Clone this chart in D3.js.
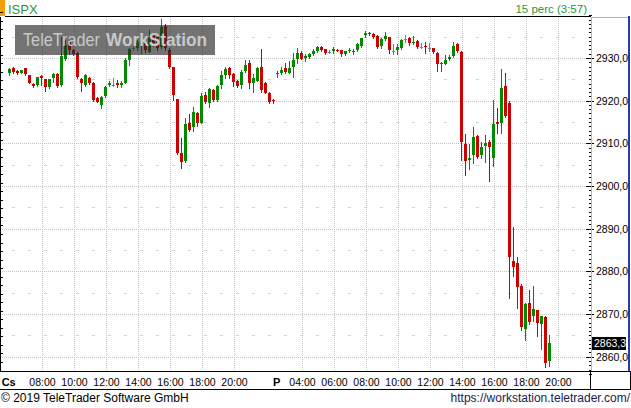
<!DOCTYPE html>
<html><head><meta charset="utf-8">
<script src="https://cdn.jsdelivr.net/npm/d3@7"></script>
<style>html,body{margin:0;padding:0;background:#fff;overflow:hidden}svg{display:block}</style>
</head><body>
<svg id="c" width="631" height="408"></svg>
<script>
// ---------- data ----------
const symbol = "ISPX";
const periodLabel = "15 perc (3:57)";
const watermarkWords = ["TeleTrader", "WorkStation"];
const copyright = "© 2019 TeleTrader Software GmbH";
const url = "https://workstation.teletrader.com/";
const sessionNames = ["Cs", "P"];
const sessionStarts = ["05:45", "02:15"];
const sessionLengths = [67, 69];
const timeTicks = [
  ["08:00","10:00","12:00","14:00","16:00","18:00","20:00"],
  ["04:00","06:00","08:00","10:00","12:00","14:00","16:00","18:00","20:00"]
];
const priceTicks = [2860,2870,2880,2890,2900,2910,2920,2930];
const lastPrice = 2863.3;

const open = [
2926.4,2927.6,2927.0,2926.6,2927.6,2926.0,2923.8,2923.7,2925.8,2925.0,
2923.1,2925.4,2926.3,2923.7,2929.7,2933.7,2931.8,2931.1,2925.0,2923.7,
2925.2,2924.2,2920.6,2919.0,2921.1,2923.7,2923.7,2924.2,2923.7,2924.2,
2929.5,2932.3,2932.3,2933.2,2933.4,2931.5,2935.4,2935.0,2932.6,2937.5,
2931.9,2928.0,2920.3,2907.7,2905.9,2914.7,2913.9,2917.0,2914.7,2921.3,
2919.5,2922.5,2920.2,2923.7,2925.9,2927.6,2926.2,2924.7,2923.7,2927.0,
2928.9,2924.2,2924.7,2928.0,2924.2,2921.9,2920.2,
2926.3,2926.6,2927.6,2926.6,2928.0,2929.7,2931.1,2930.1,2930.3,2930.9,
2931.7,2932.5,2932.0,2931.4,2931.6,2931.9,2931.8,2930.9,2931.6,2931.5,
2931.9,2932.8,2935.5,2935.9,2935.6,2935.2,2932.8,2934.5,2934.9,2931.7,
2931.9,2932.3,2934.4,2934.8,2933.4,2934.1,2932.6,2932.8,2932.3,2932.3,
2931.2,2928.7,2928.7,2929.8,2930.5,2933.2,2931.5,2909.8,2906.1,2907.3,
2911.7,2907.3,2909.4,2910.2,2906.6,2915.1,2914.8,2923.4,2919.5,2882.4,
2881.9,2876.6,2866.5,2872.5,2869.6,2870.9,2867.6,2869.4,2859.0];
const high = [
2927.7,2927.8,2927.1,2927.3,2927.6,2926.0,2924.2,2925.5,2925.9,2925.0,
2925.1,2926.5,2926.5,2935.0,2934.2,2934.3,2932.0,2931.3,2925.2,2926.2,
2925.6,2924.4,2920.9,2921.0,2923.5,2924.7,2925.2,2924.8,2924.7,2930.0,
2932.3,2932.7,2934.2,2933.8,2933.7,2936.6,2935.9,2935.4,2939.1,2938.0,
2932.3,2928.0,2920.5,2911.2,2915.9,2916.9,2918.6,2917.3,2921.8,2922.1,
2923.0,2922.7,2923.6,2927.0,2928.0,2927.8,2926.4,2924.9,2927.2,2929.5,
2929.5,2926.2,2927.8,2932.0,2924.4,2922.1,2920.4,
2927.0,2927.8,2928.9,2929.4,2931.1,2932.3,2931.6,2930.9,2931.2,2932.0,
2932.9,2932.8,2932.2,2931.9,2932.5,2932.2,2931.9,2931.7,2932.3,2932.0,
2933.4,2934.8,2936.3,2936.2,2935.8,2935.3,2934.6,2936.0,2935.0,2933.3,
2933.3,2934.4,2935.4,2935.0,2935.2,2934.2,2933.4,2933.7,2933.4,2932.4,
2931.3,2929.0,2930.7,2930.7,2933.8,2933.4,2931.6,2912.2,2909.8,2913.9,
2912.0,2910.4,2912.0,2910.8,2920.2,2918.2,2927.4,2926.6,2919.9,2890.3,
2883.3,2877.0,2872.7,2875.6,2876.6,2871.0,2869.6,2869.5,2865.2];
const low = [
2926.1,2926.6,2926.2,2926.4,2926.0,2924.1,2923.3,2923.5,2923.7,2922.3,
2923.0,2924.4,2923.2,2923.5,2929.5,2930.9,2930.6,2925.3,2922.3,2923.5,
2923.8,2920.0,2919.7,2918.2,2920.9,2923.4,2923.4,2923.3,2923.3,2924.1,
2928.4,2931.9,2931.9,2931.2,2931.5,2931.4,2932.8,2931.9,2932.3,2931.9,
2927.7,2920.2,2907.5,2904.2,2905.6,2913.0,2913.0,2914.1,2914.7,2919.5,
2918.4,2920.0,2920.0,2922.9,2925.2,2925.2,2923.4,2923.2,2922.9,2926.8,
2922.9,2922.1,2924.5,2922.1,2921.7,2919.5,2919.5,
2925.6,2926.3,2926.4,2926.4,2925.5,2928.8,2929.7,2929.4,2930.1,2930.6,
2931.5,2931.7,2930.9,2931.2,2931.2,2931.6,2930.5,2930.8,2931.3,2931.0,
2931.7,2932.6,2935.0,2935.4,2934.6,2932.4,2932.3,2934.2,2931.2,2930.9,
2930.9,2932.1,2933.7,2933.0,2933.3,2932.3,2932.3,2931.1,2931.7,2931.1,
2927.0,2927.0,2928.5,2929.5,2930.3,2931.5,2906.0,2902.6,2903.9,2905.3,
2906.5,2906.6,2905.7,2901.2,2904.8,2912.5,2912.5,2916.1,2873.8,2878.9,
2871.5,2866.2,2863.9,2867.6,2868.4,2864.8,2861.8,2857.6,2857.8];
const close = [
2927.4,2926.8,2926.4,2927.2,2926.2,2924.2,2923.4,2925.5,2925.2,2923.3,
2925.0,2926.2,2923.4,2930.5,2933.0,2931.9,2930.9,2925.5,2924.1,2926.0,
2924.1,2920.2,2919.8,2920.8,2923.3,2924.1,2923.7,2923.7,2924.1,2929.5,
2932.0,2932.3,2933.8,2933.5,2931.9,2935.0,2933.4,2932.3,2937.3,2932.3,
2928.0,2921.3,2907.7,2905.7,2914.5,2913.1,2917.4,2914.7,2921.1,2919.8,
2922.7,2920.2,2923.4,2926.0,2927.4,2926.0,2924.4,2923.4,2926.8,2928.4,
2924.1,2925.2,2927.6,2922.5,2921.9,2919.8,2919.9,
2926.6,2927.3,2926.8,2927.7,2929.5,2931.2,2929.8,2930.4,2930.9,2931.7,
2932.5,2931.9,2931.1,2931.4,2932.2,2931.7,2930.9,2931.6,2931.8,2931.7,
2933.3,2934.6,2935.9,2935.6,2935.0,2932.6,2934.4,2935.2,2931.9,2931.7,
2932.5,2934.2,2934.4,2933.6,2933.7,2932.5,2932.6,2932.5,2932.3,2931.4,
2928.5,2928.9,2929.5,2930.3,2932.8,2931.6,2910.4,2905.9,2906.6,2911.4,
2906.9,2909.1,2910.1,2909.2,2914.5,2914.5,2922.9,2916.4,2883.4,2881.1,
2876.4,2867.0,2872.3,2868.2,2871.1,2867.8,2869.5,2858.6,2863.3];

// ---------- layout ----------
const svg = d3.select("#c");
const plot = {l: 0, r: 591, t: 17, b: 371};
const colUp = "#008a00", colDown = "#cc0000", colFlat = "#808080";
const font = "'Liberation Sans', Arial, sans-serif";

const nSlots = d3.sum(sessionLengths);
const xs = d3.scaleLinear().domain([0, nSlots]).range([6.7, 6.7 + 4 * nSlots]);
const ys = d3.scaleLinear().domain([2860, 2930]).range([356.7, 58]);

const toMin = s => { const [h, m] = s.split(":").map(Number); return h * 60 + m; };
const offsets = sessionLengths.map((d, i) => d3.sum(sessionLengths.slice(0, i)));
const tickData = [];
timeTicks.forEach((arr, si) => arr.forEach(t => tickData.push({
  label: t, slot: offsets[si] + (toMin(t) - toMin(sessionStarts[si])) / 15
})));

const candles = open.map((o, i) => ({o, h: high[i], l: low[i], c: close[i], i}));

svg.append("rect").attr("width", 631).attr("height", 408).attr("fill", "#fff");

svg.append("clipPath").attr("id", "pc").append("rect")
  .attr("x", plot.l).attr("y", plot.t).attr("width", plot.r - plot.l).attr("height", plot.b - plot.t);

const grid = svg.append("g").attr("clip-path", "url(#pc)");
grid.selectAll(".hg").data(priceTicks).join("line")
  .attr("x1", plot.l).attr("x2", plot.r)
  .attr("y1", d => Math.round(ys(d)) + 0.5).attr("y2", d => Math.round(ys(d)) + 0.5)
  .attr("stroke", "#c4c4c4").attr("stroke-dasharray", "1,1");
grid.selectAll(".hm").data(d3.range(2855, 2941, 10)).join("line")
  .attr("x1", plot.l + 12).attr("x2", plot.r)
  .attr("y1", d => Math.round(ys(d)) + 0.5).attr("y2", d => Math.round(ys(d)) + 0.5)
  .attr("stroke", "#d2d2d2").attr("stroke-dasharray", "3,13");
grid.selectAll(".vg").data(tickData).join("line")
  .attr("x1", d => Math.floor(xs(d.slot)) + 0.5).attr("x2", d => Math.floor(xs(d.slot)) + 0.5)
  .attr("y1", plot.t).attr("y2", plot.b)
  .attr("stroke", "#c4c4c4").attr("stroke-dasharray", "1,1");

// candles
const cg = svg.append("g").attr("clip-path", "url(#pc)");
const colorOf = d => d.c > d.o ? colUp : (d.c < d.o ? colDown : colFlat);
const cx = d => Math.floor(xs(d.i + 0.65));
cg.selectAll(".wick").data(candles).join("line")
  .attr("x1", d => cx(d) + 0.5).attr("x2", d => cx(d) + 0.5)
  .attr("y1", d => Math.round(ys(d.h))).attr("y2", d => Math.round(ys(d.l)) + 1)
  .attr("stroke", colorOf).attr("stroke-width", 1);
cg.selectAll(".body").data(candles).join("rect")
  .attr("x", d => cx(d) - 1).attr("width", 3)
  .attr("y", d => Math.round(ys(Math.max(d.o, d.c))))
  .attr("height", d => Math.max(1, Math.round(ys(Math.min(d.o, d.c))) - Math.round(ys(Math.max(d.o, d.c)))))
  .attr("fill", colorOf);

// watermark
svg.append("rect").attr("x", 15).attr("y", 25).attr("width", 200).attr("height", 30)
  .attr("fill", "rgba(40,40,40,0.65)");
const wmPos = [{x: 23, w: 77, bold: false}, {x: 106, w: 101, bold: true}];
svg.selectAll(".wm").data(watermarkWords).join("text")
  .attr("x", (d, i) => wmPos[i].x).attr("y", 46)
  .attr("font-family", font).attr("font-size", 19).attr("fill", "#c8c8c8")
  .attr("font-weight", (d, i) => wmPos[i].bold ? "bold" : "normal")
  .attr("textLength", (d, i) => wmPos[i].w).attr("lengthAdjust", "spacingAndGlyphs")
  .text(d => d);

// header
svg.append("rect").attr("x", 0).attr("y", 0).attr("width", 5).attr("height", 16).attr("fill", "#f5a000");
svg.append("text").attr("x", 8).attr("y", 13.5).attr("font-family", font).attr("font-size", 13)
  .attr("fill", "#239a3c").text(symbol);
svg.append("text").attr("x", 587).attr("y", 13).attr("text-anchor", "end").attr("font-family", font)
  .attr("font-size", 11.5).attr("fill", "#239a3c").text(periodLabel);
svg.append("line").attr("x1", 5).attr("x2", plot.r).attr("y1", 16.5).attr("y2", 16.5).attr("stroke", "#000");

// left ticks
svg.selectAll(".lt").data(d3.range(2856.75, 2941, 2)).join("line")
  .attr("x1", 0).attr("x2", 3)
  .attr("y1", d => Math.round(ys(d)) + 0.5).attr("y2", d => Math.round(ys(d)) + 0.5)
  .attr("stroke", "#000");
svg.append("line").attr("x1", 0.5).attr("x2", 0.5).attr("y1", plot.t).attr("y2", plot.b).attr("stroke", "#000");

// right axis
const ra = svg.append("g");
ra.append("rect").attr("x", 591).attr("y", 17).attr("width", 40).attr("height", 354).attr("fill", "#fff");
ra.selectAll(".rt").data(d3.range(2856, 2941, 1)).join("line")
  .attr("x1", 589).attr("x2", 592)
  .attr("y1", d => Math.round(ys(d)) + 0.5).attr("y2", d => Math.round(ys(d)) + 0.5)
  .attr("stroke", "#000");
ra.selectAll(".rtm").data(priceTicks).join("line")
  .attr("x1", 586).attr("x2", 594)
  .attr("y1", d => Math.round(ys(d)) + 0.5).attr("y2", d => Math.round(ys(d)) + 0.5)
  .attr("stroke", "#000");
ra.append("line").attr("x1", 591.5).attr("x2", 591.5).attr("y1", 17).attr("y2", 371).attr("stroke", "#f0b030");
ra.append("line").attr("x1", 591).attr("x2", 629).attr("y1", 17.5).attr("y2", 17.5).attr("stroke", "#f0b030");
ra.append("rect").attr("x", 628).attr("y", 16).attr("width", 2).attr("height", 356).attr("fill", "#1f3fb0");
ra.selectAll(".rl").data(priceTicks).join("text")
  .attr("x", 596).attr("y", d => ys(d) + 4)
  .attr("font-family", font).attr("font-size", 10.5).attr("fill", "#000")
  .text(d => d3.format(".1f")(d).replace(".", ","));
ra.append("rect").attr("x", 592).attr("y", Math.round(ys(lastPrice)) - 6).attr("width", 34).attr("height", 13).attr("fill", "#000");
ra.append("text").attr("x", 594).attr("y", ys(lastPrice) + 4)
  .attr("font-family", font).attr("font-size", 10.5).attr("fill", "#fff")
  .text(d3.format(".1f")(lastPrice).replace(".", ","));

// x axis area
svg.append("line").attr("x1", 0).attr("x2", 631).attr("y1", 371.5).attr("y2", 371.5).attr("stroke", "#000");
svg.append("line").attr("x1", 0).attr("x2", 631).attr("y1", 389.5).attr("y2", 389.5).attr("stroke", "#000");
svg.append("line").attr("x1", 590.5).attr("x2", 590.5).attr("y1", 371.5).attr("y2", 389.5).attr("stroke", "#000");
svg.append("line").attr("x1", 630.5).attr("x2", 630.5).attr("y1", 371.5).attr("y2", 389.5).attr("stroke", "#000");
svg.selectAll(".xl").data(tickData).join("text")
  .attr("x", d => Math.floor(xs(d.slot)) + 0.5).attr("y", 385.5).attr("text-anchor", "middle")
  .attr("font-family", font).attr("font-size", 10.5).attr("fill", "#000").text(d => d.label);
svg.selectAll(".dl").data(sessionNames).join("text")
  .attr("x", (d, i) => xs(offsets[i]) + 2).attr("y", 385.5).attr("text-anchor", "middle")
  .attr("font-family", font).attr("font-size", 11).attr("font-weight", "bold").attr("fill", "#000").text(d => d);

// footer
svg.append("text").attr("x", 1).attr("y", 401.5).attr("font-family", font).attr("font-size", 12)
  .attr("fill", "#000").text(copyright);
svg.append("text").attr("x", 630).attr("y", 401.5).attr("text-anchor", "end").attr("font-family", font)
  .attr("font-size", 12).attr("fill", "#1a1a50").text(url);
</script>
</body></html>
